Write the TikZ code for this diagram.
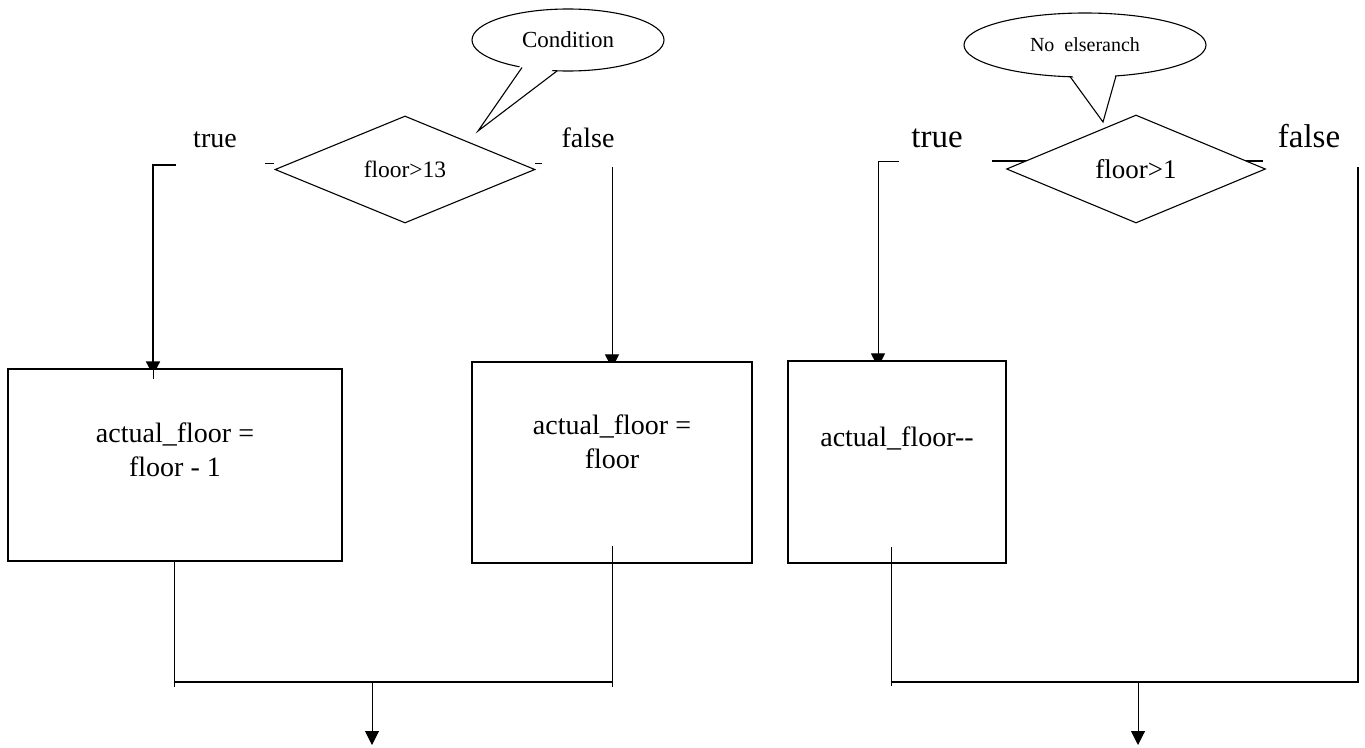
\documentclass[tikz,border=0pt]{standalone}
\usepackage{fontspec}
\setmainfont{Liberation Serif}
\usetikzlibrary{shapes.geometric,arrows.meta,backgrounds}
\begin{document}
\begin{tikzpicture}[x=1pt,y=-1pt,
  boxnode/.style={draw, fill=white, line width=1.3pt, inner sep=0pt},
  decision/.style={diamond, draw, fill=white, line width=1.1pt, inner sep=0pt},
  bubble/.style={ellipse, draw, fill=white, line width=1.1pt, inner sep=0pt},
  conn/.style={line width=1pt},
  arr/.style={line width=1pt, -{Triangle[length=14pt,width=14pt]}},
  boxtext/.style={font=\fontsize{28}{34}\selectfont, align=center, inner sep=0pt},
  lblL/.style={font=\fontsize{28}{34}\selectfont, anchor=base, inner sep=0pt},
  lblR/.style={font=\fontsize{33}{38}\selectfont, anchor=base, inner sep=0pt},
]
\useasboundingbox (0,0) rectangle (1365,747);

% ---------- left part ----------
\node[bubble, minimum width=192pt, minimum height=62pt, font=\fontsize{23}{27}\selectfont] (call1) at (568,40) {Condition};
\node[decision, minimum width=260pt, minimum height=107pt, font=\fontsize{23.5}{28}\selectfont] (dec1) at (405,169.5) {floor>13};
\node[lblL] (true1) at (215,147) {true};
\node[lblL] (false1) at (588,147) {false};

\node[boxnode, minimum width=334pt, minimum height=192pt] (box1) at (175,465) {};
\node[boxtext] (box1txt) at (175,450) {actual\_floor =\\floor - 1};
\node[boxnode, minimum width=280pt, minimum height=201pt] (box2) at (612,462.5) {};
\node[boxtext] (box2txt) at (612,442) {actual\_floor =\\floor};

\coordinate (t1a) at (176,165);
\coordinate (t1b) at (153,165);
\coordinate (f1a) at (612,167);
\coordinate (x2) at (612,546);
\coordinate (m1l) at (174,682);
\coordinate (m1r) at (612,682);
\coordinate (o1) at (372,682);
\coordinate (e1) at (372,745);
\coordinate (k1a) at (265,163);
\coordinate (k1b) at (274,163);
\coordinate (k2a) at (535,163);
\coordinate (k2b) at (542,163);

% ---------- right part ----------
\node[bubble, minimum width=242pt, minimum height=64pt, font=\fontsize{20}{24}\selectfont] (call2) at (1085,45) {No~~elseranch};
\node[decision, minimum width=259pt, minimum height=108pt, font=\fontsize{27}{32}\selectfont] (dec2) at (1136,169) {floor>1};
\node[lblR] (true2) at (937,147) {true};
\node[lblR] (false2) at (1309,147) {false};

\node[boxnode, minimum width=218pt, minimum height=202pt] (box3) at (897,462) {};
\node[boxtext] (box3txt) at (897,438) {actual\_floor-{}-};

\coordinate (t2a) at (899,161);
\coordinate (t2b) at (878,161);
\coordinate (f2a) at (1358,167);
\coordinate (x3) at (891,547);
\coordinate (m2l) at (891,682);
\coordinate (m2r) at (1358,682);
\coordinate (o2) at (1138,682);
\coordinate (e2) at (1138,745);
\coordinate (k3a) at (992,161);
\coordinate (k3b) at (1030,161);
\coordinate (k4a) at (1243,161);
\coordinate (k4b) at (1263,161);

% ---------- connectors under the shapes ----------
\begin{scope}[on background layer]
  \draw[arr, line width=1.8pt] (t1a) -- (t1b) -- ([yshift=-7pt]t1b |- box1.north);
  \draw[arr] (f1a) -- ([yshift=-7pt]box2.north);
  \draw[arr] (t2a) -- (t2b) -- ([yshift=-7pt]t2b |- box3.north);
  \draw[conn, line width=1.3pt] (k3a) -- (k3b);
  \draw[conn, line width=1.3pt] (k4a) -- (k4b);
\end{scope}

% ---------- lines over the shapes ----------
\draw[conn] (k1a) -- (k1b);
\draw[conn] (k2a) -- (k2b);
\draw[conn] (t1b |- box1.north) -- ++(0,11);

\draw[conn] (m1l |- box1.south) -- ([yshift=-5pt]m1l);
\draw[conn] (x2) -- ([yshift=-5pt]m1r);
\draw[conn, line width=1.3pt] (m1l) -- (m1r);
\draw[arr] (o1) -- (e1);

\draw[conn] (x3) -- ([yshift=-4pt]m2l);
\draw[conn, line width=1.3pt] (f2a) -- (m2r) -- (m2l);
\draw[arr] (o2) -- (e2);

% ---------- callout tails ----------
\coordinate (c1a) at (522,67.5);
\coordinate (c1t) at (478,131);
\coordinate (c1b) at (557,71);
\fill[white] (522,63) -- (c1t) -- (557,66.5) -- cycle;
\draw[line width=1.1pt, line join=miter] (c1a) -- (c1t) -- (c1b);

\coordinate (c2a) at (1070,76.5);
\coordinate (c2t) at (1103,122);
\coordinate (c2b) at (1116,76);
\fill[white] (1070,72) -- (c2t) -- (1116,71.5) -- cycle;
\draw[line width=1.1pt, line join=miter] (c2a) -- (c2t) -- (c2b);
\end{tikzpicture}
\end{document}
